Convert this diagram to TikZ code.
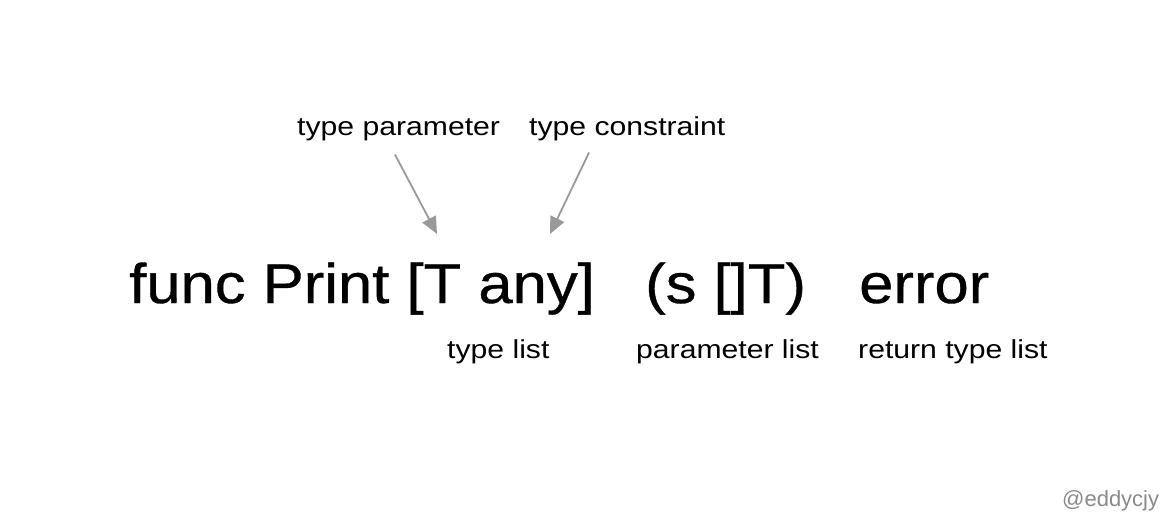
\documentclass[tikz,border=0pt]{standalone}
\usepackage{fontspec}
\setmainfont{Liberation Sans}
\newfontfamily\codefont[FakeStretch=1.1,FakeBold=0.6]{Liberation Sans}
\newfontfamily\labelfont[FakeStretch=1.16]{Liberation Sans}
\usepackage{xcolor}
\usetikzlibrary{arrows.meta}
\definecolor{arrowgray}{HTML}{999999}
\definecolor{markgray}{HTML}{8A8A8A}

\begin{document}
\begin{tikzpicture}[x=1pt,y=-1pt,
  code/.style={anchor=base west,inner sep=0pt,font=\codefont\fontsize{56}{60}\selectfont},
  label/.style={anchor=base west,inner sep=0pt,font=\labelfont\fontsize{26}{30}\selectfont},
  pointer/.style={draw=arrowgray,line width=1.8pt,-{Triangle[length=17pt,width=15pt]}}]

\useasboundingbox (0,0) rectangle (1176,528);

% Signature parts
\node[code] (sig) at (129,303) {func Print [T any]};
\node[code] (params) at (645,303) {(s []T)};
\node[code] (ret) at (859,303) {error};

% Labels above
\node[label] (tparam) at (297,135) {type parameter};
\node[label] (tcons) at (529,135) {type constraint};

% Labels below
\node[label] (tlist) at (447,358) {type list};
\node[label] (plist) at (636,358) {parameter list};
\node[label] (rlist) at (858,358) {return type list};

% Arrow ends
\coordinate (tparamEnd) at (437,234);
\coordinate (tconsEnd) at (550,234);

% Arrows
\draw[pointer] (tparam.south -| 395,0) ++(0,14) -- (tparamEnd);
\draw[pointer] (tcons.south -| 589,0) ++(0,12) -- (tconsEnd);

% Watermark
\node[anchor=base west,inner sep=0pt,text=markgray,font=\fontsize{22}{26}\selectfont] (mark) at (1062,506) {@eddycjy};
\end{tikzpicture}
\end{document}
